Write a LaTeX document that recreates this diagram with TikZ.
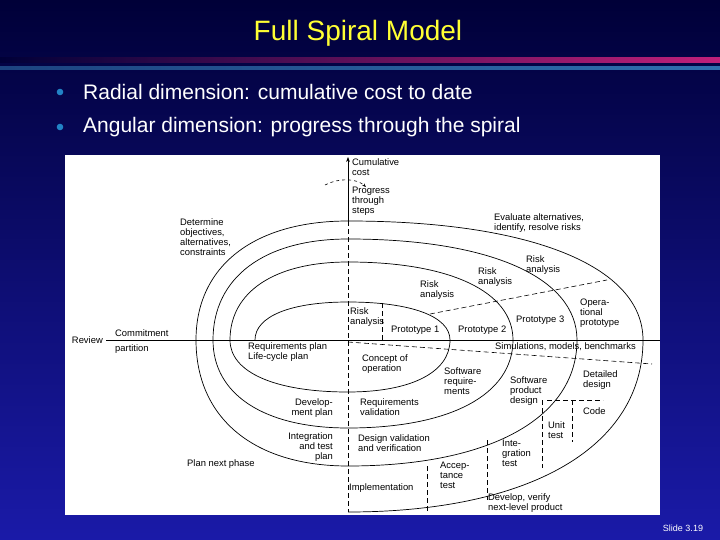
\documentclass[tikz,border=0pt]{standalone}
\usepackage{fontspec}
\setmainfont{Liberation Sans}
\usetikzlibrary{arrows.meta}
\definecolor{bgtop}{HTML}{000038}
\definecolor{bgbot}{HTML}{1A1AA8}
\definecolor{ttl}{HTML}{FFFF33}
\definecolor{pinkl}{HTML}{C0207A}
\definecolor{bluel}{HTML}{2F6FAF}
\definecolor{bul}{HTML}{2283C6}
\def\kk{0.62}
\tikzset{
  lbl/.style={font=\fontsize{9.4}{10}\selectfont, inner sep=0pt, align=left, anchor=north west, text=black},
  lblr/.style={lbl, align=right, anchor=north east},
  part/.style={dash pattern=on 5pt off 3pt, line width=0.6pt},
  spir/.style={line width=0.7pt},
  bullet/.style={font=\fontsize{21}{24}\selectfont, text=white, anchor=west, inner sep=0pt}
}
\begin{document}
\begin{tikzpicture}[x=1pt,y=1pt]
\useasboundingbox (0,0) rectangle (720,-540);
\shade[top color=bgtop, bottom color=bgbot] (0,0) rectangle (720,-540);
\node[font=\fontsize{28}{30}\selectfont, text=ttl] (title) at (358,-33) {Full Spiral Model};
\shade[left color=bgtop, right color=pinkl] (0,-58) rectangle (720,-63);
\shade[left color=bgtop!40!bluel, right color=bluel] (0,-67) rectangle (720,-70);
\fill[bul] (60,-92) circle (3.3);
\fill[bul] (60,-127) circle (3.3);
\node[bullet] (b1) at (83,-92) {Radial dimension: cumulative cost to date};
\node[bullet] (b2) at (83,-127) {Angular dimension: progress through the spiral};
\node[font=\fontsize{9}{10}\selectfont, text=white] (slide) at (683,-528) {Slide 3.19};
% diagram
\fill[white] (65,-155) rectangle (660,-515);
% axes
\coordinate (ytop) at (348,-157);
\coordinate (ymid) at (348,-221);
\coordinate (ybot) at (348,-512);
\draw[line width=0.7pt, -{Stealth[length=5pt]}] (ymid) -- (ytop);
\draw[part] (ymid) -- (ybot);
\coordinate (xl) at (106,-340);
\coordinate (xr) at (660,-340);
\draw[line width=0.7pt] (xl) -- (xr);
% spiral
\draw[spir] (255,-340)
 .. controls (255,-340+\kk*38) and (348-\kk*93,-302) .. (348,-302)
 .. controls (348+\kk*102,-302) and (450,-340+\kk*38) .. (450,-340)
 .. controls (450,-340-\kk*52) and (348+\kk*102,-392) .. (348,-392)
 .. controls (348-\kk*118,-392) and (230,-340-\kk*52) .. (230,-340)
 .. controls (230,-340+\kk*78) and (348-\kk*118,-262) .. (348,-262)
 .. controls (348+\kk*165,-262) and (513,-340+\kk*78) .. (513,-340)
 .. controls (513,-340-\kk*88) and (348+\kk*165,-428) .. (348,-428)
 .. controls (348-\kk*135,-428) and (213,-340-\kk*88) .. (213,-340)
 .. controls (213,-340+\kk*101) and (348-\kk*135,-239) .. (348,-239)
 .. controls (348+\kk*229,-239) and (577,-340+\kk*101) .. (577,-340)
 .. controls (577,-340-\kk*126) and (348+\kk*229,-466) .. (348,-466)
 .. controls (348-\kk*152,-466) and (196,-340-\kk*126) .. (196,-340)
 .. controls (196,-340+\kk*119) and (348-\kk*152,-221) .. (348,-221)
 .. controls (348+\kk*295,-221) and (643,-340+\kk*119) .. (643,-340)
 .. controls (643,-340-\kk*172) and (348+\kk*295,-512) .. (348,-512);
% progress arrow
\coordinate (pa) at (325,-185);
\coordinate (pb) at (366,-187);
\draw[dashed, line width=0.6pt, -{Stealth[length=4pt]}] (pa) .. controls (338,-178) and (356,-178) .. (pb);
% partitions
\coordinate (d1a) at (430,-314); \coordinate (d1b) at (607,-280);
\draw[part] (d1a) -- (d1b);
\coordinate (d2a) at (382,-303); \coordinate (d2b) at (382,-340);
\draw[part] (d2a) -- (d2b);
\coordinate (d3a) at (348,-342); \coordinate (d3b) at (652,-364);
\draw[part] (d3a) -- (d3b);
\coordinate (d4a) at (547,-400); \coordinate (d4b) at (603,-400);
\draw[part] (d4a) -- (d4b);
\coordinate (d5a) at (542,-400); \coordinate (d5b) at (542,-468);
\draw[part] (d5a) -- (d5b);
\coordinate (d6a) at (572,-400); \coordinate (d6b) at (572,-442);
\draw[part] (d6a) -- (d6b);
\coordinate (d7a) at (487,-440); \coordinate (d7b) at (487,-500);
\draw[part] (d7a) -- (d7b);
\coordinate (d8a) at (427,-466); \coordinate (d8b) at (427,-513);
\draw[part] (d8a) -- (d8b);
% labels
\node[lbl] (l1) at (352,-158) {Cumulative\\cost};
\node[lbl] (l2) at (352,-187) {Progress\\through\\steps};
\node[lbl] (l3) at (180,-218) {Determine\\objectives,\\alternatives,\\constraints};
\node[lbl] (l4) at (494,-213) {Evaluate alternatives,\\identify, resolve risks};
\node[lbl] (r1) at (526,-255) {Risk\\analysis};
\node[lbl] (r2) at (478,-267) {Risk\\analysis};
\node[lbl] (r3) at (420,-280) {Risk\\analysis};
\node[lbl] (r4) at (350,-307) {Risk\\analysis};
\node[lbl] (p1) at (391,-326) {Prototype 1};
\node[lbl] (p2) at (458,-326) {Prototype 2};
\node[lbl] (p3) at (516,-316) {Prototype 3};
\node[lbl] (p4) at (580,-299) {Opera-\\tional\\prototype};
\node[lbl] (cm) at (115,-329) {Commitment};
\node[lbl] (pt) at (115,-344) {partition};
\node[lbl, anchor=east] (rv) at (103,-340) {Review};
\node[lbl] (rp) at (248,-342) {Requirements plan\\Life-cycle plan};
\node[lbl] (co) at (362,-354) {Concept of\\operation};
\node[lbl] (sr) at (444,-367) {Software\\require-\\ments};
\node[lbl] (sp) at (510,-376) {Software\\product\\design};
\node[lbl] (dd) at (583,-370) {Detailed\\design};
\node[lbl] (sm) at (495,-342) {Simulations, models, benchmarks};
\node[lblr] (dp) at (333,-398) {Develop-\\ment plan};
\node[lbl] (rvl) at (360,-398) {Requirements\\validation};
\node[lblr] (it) at (333,-432) {Integration\\and test\\plan};
\node[lbl] (dv) at (358,-434) {Design validation\\and verification};
\node[lbl] (pn) at (187,-459) {Plan next phase};
\node[lbl] (im) at (349,-483) {Implementation};
\node[lbl] (at) at (440,-462) {Accep-\\tance\\test};
\node[lbl] (ig) at (502,-440) {Inte-\\gration\\test};
\node[lbl] (ut) at (548,-421) {Unit\\test};
\node[lbl] (cd) at (583,-407) {Code};
\node[lbl] (dvn) at (488,-493) {Develop, verify\\next-level product};
\end{tikzpicture}
\end{document}
